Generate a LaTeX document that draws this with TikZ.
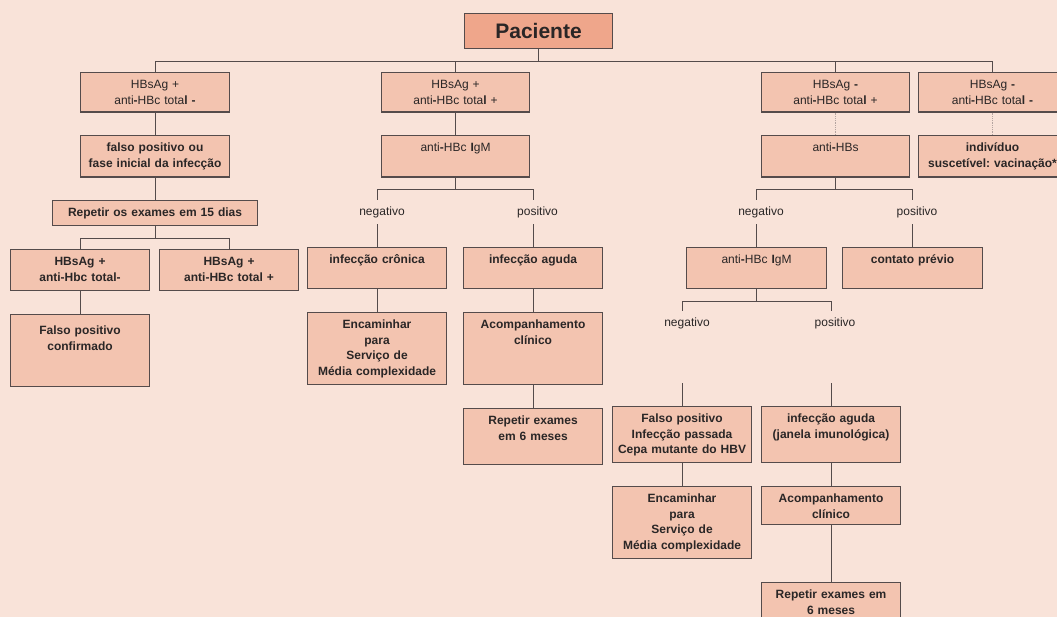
\documentclass[tikz,border=0pt]{standalone}
\usepackage{fontspec}
\setmainfont{Liberation Sans}
\usepackage{tikz}
\definecolor{bgc}{HTML}{F9E3D9}
\definecolor{boxc}{HTML}{F3C4B0}
\definecolor{rootc}{HTML}{EFA68B}
\definecolor{linec}{HTML}{554B4B}
\definecolor{textc}{HTML}{2A2626}
\definecolor{dotc}{HTML}{B4A4A0}
\newcommand{\boxfont}{\fontsize{12}{15.5}\selectfont}
\frenchspacing

\begin{document}
\begin{tikzpicture}[x=1pt, y=-1pt,
	root/.style={draw=linec, fill=rootc, line width=1.1pt, anchor=north west, minimum width=148pt, minimum height=35pt, font=\fontsize{21}{24}\selectfont\bfseries, text=textc},
	box/.style 2 args={draw=linec, fill=boxc, line width=1.1pt, anchor=north west, text width=#1, align=center, inner xsep=0pt, inner ysep=0pt, text height=16pt, text depth=#2, font=\boxfont\bfseries, text=textc},
	plain/.style={font=\boxfont},
	lbl/.style={font=\boxfont, text=textc, inner sep=0pt, minimum height=24pt},
	conn/.style={draw=linec, line width=1.1pt},
	dots/.style={draw=dotc, line width=0.8pt, densely dotted}]
	\useasboundingbox (0,0) rectangle (1057,617);
	\clip (0,0) rectangle (1057,617);
	\fill[bgc] (0,0) rectangle (1057,617);

	\node[root] at (464,13) (pac) {Paciente};

	% primeira linha
	\node[box={149pt}{23.5pt}, plain] at (80,72) (a1) {HBsAg +\\anti\textbf{-}HBc tota\textbf{l -}};
	\node[box={148pt}{23.5pt}, plain] at (381,72) (b1) {HBsAg +\\anti\textbf{-}HBc tota\textbf{l} +};
	\node[box={148pt}{23.5pt}, plain] at (761,72) (c1) {HBsAg \textbf{-}\\anti\textbf{-}HBc tota\textbf{l} +};
	\node[box={148pt}{23.5pt}, plain] at (918,72) (d1) {HBsAg \textbf{-}\\anti\textbf{-}HBc tota\textbf{l -}};

	\node[box={149pt}{25.5pt}] at (80,135) (a2) {falso positivo ou\\fase inicial da infecção};
	\node[box={148pt}{25.5pt}, plain] at (381,135) (b2) {anti\textbf{-}HBc \textbf{I}gM};
	\node[box={148pt}{25.5pt}, plain] at (761,135) (c2) {anti\textbf{-}HBs};
	\node[box={148pt}{25.5pt}] at (918,135) (d2) {indivíduo\\suscetível: vacinação*};

	% coluna esquerda
	\node[box={205pt}{9pt}] at (52,200) (a3) {Repetir os exames em 15 dias};
	\node[box={139pt}{25pt}] at (10,249) (a4a) {HBsAg +\\anti-Hbc total-};
	\node[box={139pt}{25pt}] at (159,249) (a4b) {HBsAg +\\anti-HBc total +};
	\node[box={139pt}{52pt}, text height=20pt] at (10,314) (a5) {Falso positivo\\confirmado};

	% coluna do meio
	\node[lbl] at (382,212) (bneg) {negativo};
	\node[lbl] at (537.5,212) (bpos) {positivo};
	\node[box={139pt}{25pt}] at (307,247) (b3a) {infecção crônica};
	\node[box={139pt}{25pt}] at (463,247) (b3b) {infecção aguda};
	\node[box={139pt}{56pt}] at (307,312) (b4a) {Encaminhar\\para\\Serviço de\\Média complexidade};
	\node[box={139pt}{56pt}] at (463,312) (b4b) {Acompanhamento\\clínico};
	\node[box={139pt}{40pt}] at (463,408) (b5) {Repetir exames\\em 6 meses};

	% coluna direita
	\node[lbl] at (761,212) (cneg) {negativo};
	\node[lbl] at (917,212) (cpos) {positivo};
	\node[box={140pt}{25pt}, plain] at (686,247) (c3a) {anti\textbf{-}HBc \textbf{I}gM};
	\node[box={140pt}{25pt}] at (842,247) (c3b) {contato prévio};
	\node[lbl] at (687,323) (cneg2) {negativo};
	\node[lbl] at (835,323) (cpos2) {positivo};
	\node[box={139pt}{40pt}] at (612,406) (c4a) {Falso positivo\\Infecção passada\\Cepa mutante do HBV};
	\node[box={139pt}{40pt}] at (761,406) (c4b) {infecção aguda\\(janela imunológica)};
	\node[box={139pt}{56pt}] at (612,486) (c5a) {Encaminhar\\para\\Serviço de\\Média complexidade};
	\node[box={139pt}{22pt}] at (761,486) (c5b) {Acompanhamento\\clínico};
	\node[box={139pt}{40pt}] at (761,582) (c6) {Repetir exames em\\6 meses};

	\path (c4a.north) ++(0,-23) coordinate (c4a-in);
	\path (c4b.north) ++(0,-23) coordinate (c4b-in);

	\draw[conn] (pac.south) -- ++(0,12) -| (a1.north);
	\draw[conn] (pac.south) -- ++(0,12) -| (b1.north);
	\draw[conn] (pac.south) -- ++(0,12) -| (c1.north);
	\draw[conn] (pac.south) -- ++(0,12) -| (d1.north);
	\draw[conn] (a1) -- (a2);
	\draw[conn] (b1) -- (b2);
	\draw[dots] (c1) -- (c2);
	\draw[dots] (d1) -- (d2);

	\draw[conn] (a2.south) -- (a3.north);
	\draw[conn] (a3.south) -- ++(0,12) -| (a4a.north);
	\draw[conn] (a3.south) -- ++(0,12) -| (a4b.north);
	\draw[conn] (a4a) -- (a5);

	\draw[conn] (b2.south) -- ++(0,12) -| (b3a.north |- bneg.north);
	\draw[conn] (b2.south) -- ++(0,12) -| (b3b.north |- bpos.north);
	\draw[conn] (bneg.south -| b3a.north) -- (b3a.north);
	\draw[conn] (bpos.south -| b3b.north) -- (b3b.north);
	\draw[conn] (b3a) -- (b4a);
	\draw[conn] (b3b) -- (b4b);
	\draw[conn] (b4b) -- (b5);

	\draw[conn] (c2.south) -- ++(0,12) -| (c3a.north |- cneg.north);
	\draw[conn] (c2.south) -- ++(0,12) -| (c3b.north |- cpos.north);
	\draw[conn] (cneg.south -| c3a.north) -- (c3a.north);
	\draw[conn] (cpos.south -| c3b.north) -- (c3b.north);
	\draw[conn] (c3a.south) -- ++(0,12) -| (c4a.north |- cneg2.north);
	\draw[conn] (c3a.south) -- ++(0,12) -| (c4b.north |- cpos2.north);
	\draw[conn] (c4a-in) -- (c4a.north);
	\draw[conn] (c4b-in) -- (c4b.north);
	\draw[conn] (c4a) -- (c5a);
	\draw[conn] (c4b) -- (c5b);
	\draw[conn] (c5b) -- (c6);
\end{tikzpicture}
\end{document}
